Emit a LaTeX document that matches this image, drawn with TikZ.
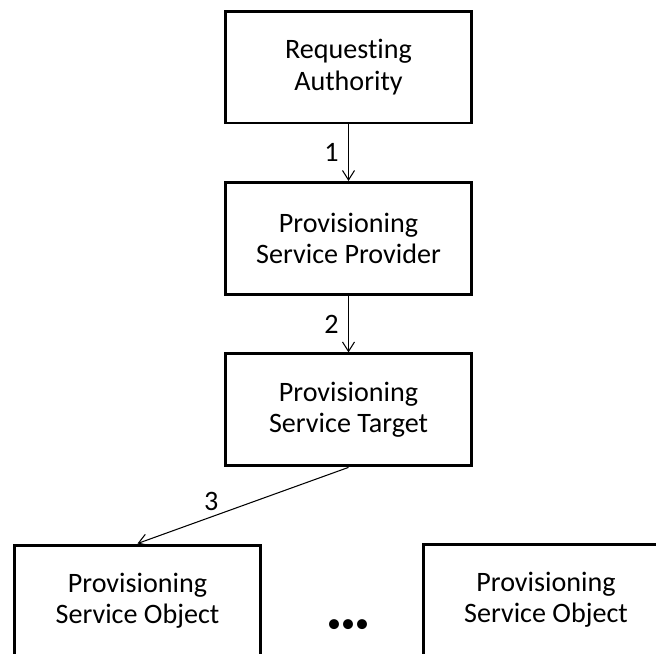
\documentclass[tikz,border=0pt]{standalone}
\usepackage{fontspec}
\setmainfont{Carlito}[Ligatures={NoCommon}]
\usetikzlibrary{arrows.meta,positioning}

\begin{document}
\begin{tikzpicture}[x=0.02cm,y=-0.02cm,node distance=1.13cm,
box/.style={draw,line width=1.7pt,rectangle,minimum width=4.92cm,minimum height=2.24cm,align=center,font=\fontsize{16pt}{17.9pt}\selectfont},
arr/.style={line width=0.6pt,-{Straight Barb[length=0.19cm,width=0.24cm]}},
lbl/.style={font=\fontsize{16pt}{17.9pt}\selectfont}]

\useasboundingbox (0,0) rectangle (656,653);
\clip (0,0) rectangle (656,653);

\node[box] (ra) at (348.5,67) {Requesting\\Authority};
\node[box, below=of ra] (psp) {Provisioning\\Service Provider};
\node[box, below=of psp] (pst) {Provisioning\\Service Target};
\node[box] (pso1) at (137.5,601) {Provisioning\\Service Object};
\node[box] (pso2) at (546,600) {Provisioning\\Service Object};
\node[lbl] (dots) at (348,626) {•••};

\draw[arr] (ra) -- node[lbl,left=2pt]{1} (psp);
\draw[arr] (psp) -- node[lbl,left=2pt]{2} (pst);
\draw[arr] (pst.south) -- node[lbl,pos=0.65,above]{3} (pso1.north);
\end{tikzpicture}
\end{document}
